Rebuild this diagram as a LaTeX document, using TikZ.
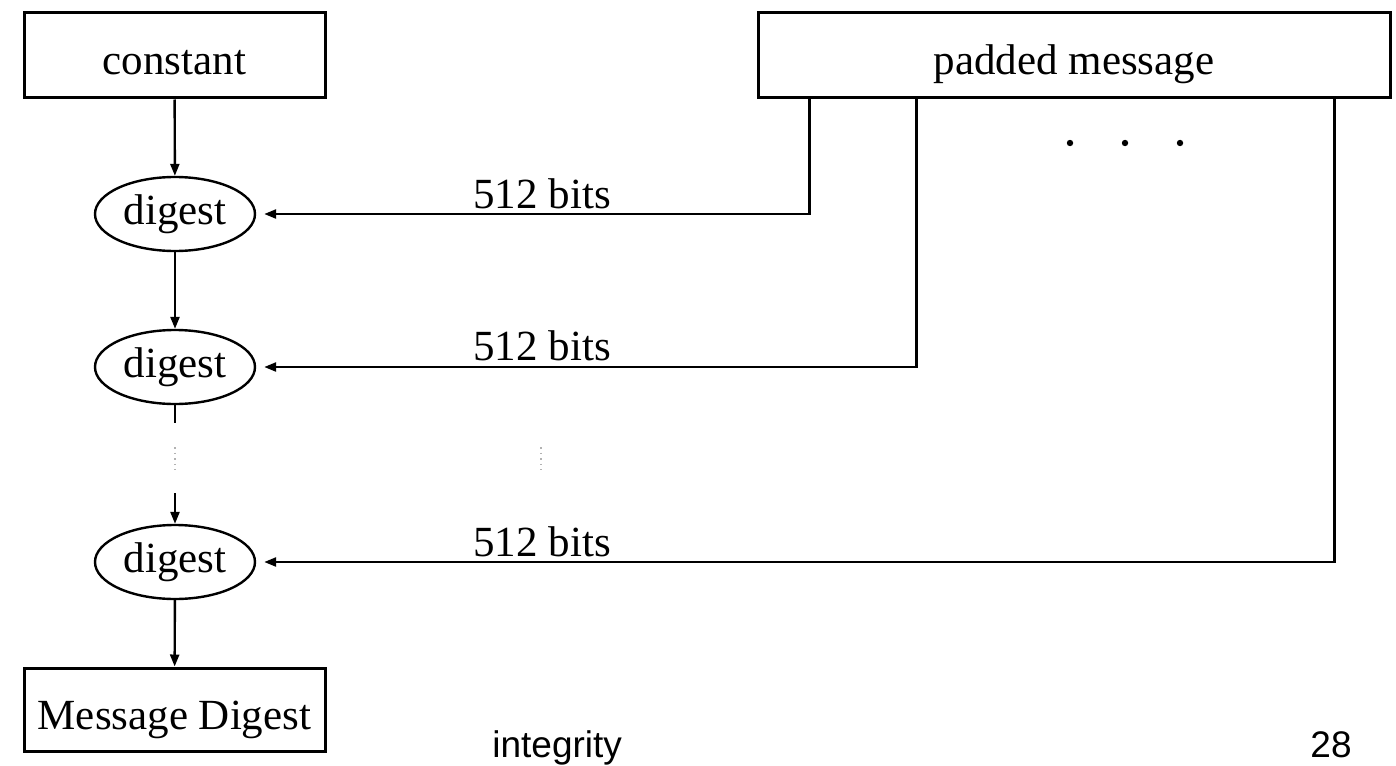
\documentclass[tikz,border=0pt]{standalone}
\usepackage{fontspec}
\setmainfont{Liberation Serif}
\newfontfamily\arialfont{Liberation Sans}
\usetikzlibrary{shapes.geometric,arrows.meta}
\tikzset{
  box/.style={draw, line width=1.5pt, inner sep=0pt, text height=19.5pt, text depth=0pt, font=\fontsize{21.5}{24}\selectfont},
  dig/.style={draw, ellipse, line width=1.2pt, minimum width=80pt, minimum height=37pt, inner sep=0pt, font=\fontsize{21.5}{24}\selectfont},
  conn/.style={line width=1.2pt},
  arr/.style={conn, -{Triangle[length=6pt,width=4.5pt]}},
  bitlbl/.style={anchor=base west, inner sep=0pt, font=\fontsize{21.5}{24}\selectfont},
  faint/.style={draw=gray!60, line width=0.8pt, dotted},
  foot/.style={anchor=base west, inner sep=0pt, font=\arialfont\fontsize{18.5}{22}\selectfont}
}
\begin{document}
\begin{tikzpicture}[x=0.5pt,y=-0.5pt]
\useasboundingbox (0,0) rectangle (1396,765);
% boxes
\node[box, minimum width=150.5pt, minimum height=42.5pt] (const) at (174.5,55.5) {constant};
\node[box, minimum width=316pt, minimum height=42.5pt] (pm) at (1074,55.5) {padded message};
\node[box, minimum width=150.5pt, minimum height=41.5pt] (md) at (174.5,709.5) {Message Digest};
% digests
\node[dig] (d1) at (175,214) {digest};
\node[dig] (d2) at (175,367) {digest};
\node[dig] (d3) at (175,562) {digest};
% vertical chain
\draw[arr] (const) -- (d1);
\draw[arr] (d1) -- (d2);
\coordinate (g1) at (175,423);
\coordinate (g2) at (175,447);
\coordinate (g3) at (175,470);
\coordinate (g4) at (175,493);
\draw[conn] (d2.south) -- (g1);
\draw[faint] (g2) -- (g3);
\draw[arr] (g4) -- (d3.north);
\draw[arr] (d3) -- (md);
% message blocks
\draw[arr, shorten >=4pt] ([xshift=26.5pt]pm.south west) |- (d1.east);
\draw[arr, shorten >=4pt] ([xshift=80pt]pm.south west) |- (d2.east);
\draw[arr, shorten >=4pt] ([xshift=289pt]pm.south west) |- (d3.east);
% labels
\node[bitlbl] (l1) at (473,208) {512 bits};
\node[bitlbl] (l2) at (473,360) {512 bits};
\node[bitlbl] (l3) at (473,556) {512 bits};
% dots
\fill (1070,143) circle (1.6pt);
\fill (1125,143) circle (1.6pt);
\fill (1180,143) circle (1.6pt);
\coordinate (m1) at (541,447);
\coordinate (m2) at (541,470);
\draw[faint] (m1) -- (m2);
% footer
\node[foot] (f1) at (492,757) {integrity};
\node[foot, anchor=base east] (f2) at (1352,757) {28};
\end{tikzpicture}
\end{document}
